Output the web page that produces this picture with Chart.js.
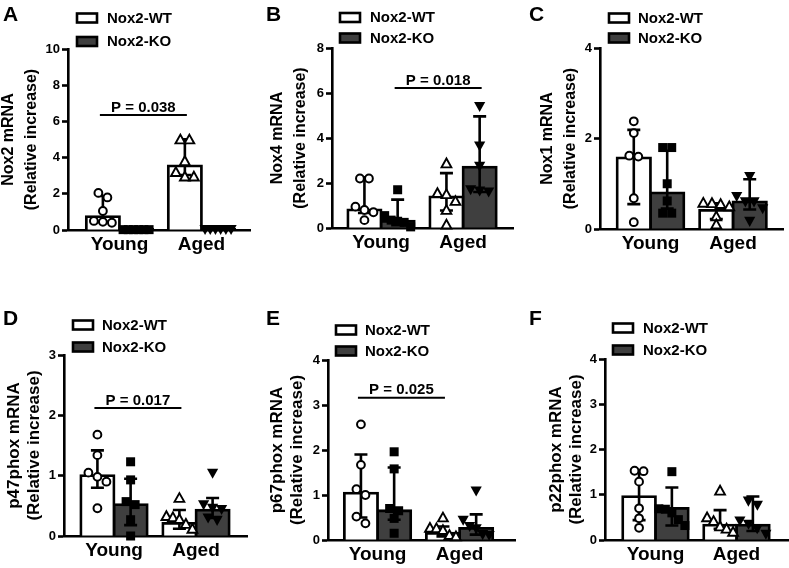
<!DOCTYPE html>
<html><head><meta charset="utf-8">
<script src="https://cdn.jsdelivr.net/npm/chart.js@4.4.1/dist/chart.umd.min.js"></script>
<style>
html,body{margin:0;padding:0;background:#fff;}
#wrap{position:relative;width:789px;height:568px;overflow:hidden;background:#fff;}
#wrap canvas{position:absolute;}
</style></head><body><div id="wrap"></div>
<script>
// ---------------- DATA ----------------
const categories = ['Young', 'Aged'];
const seriesNames = ['Nox2-WT', 'Nox2-KO'];

// A: Nox2 mRNA
const nox2WT = [0.74, 3.54];
const nox2WTLow = [0.45, 3.04];
const nox2WTHigh = [1.88, 5.01];
const nox2WTPts = [[2.05, 1.8, 1.05, 0.5, 0.45, 0.4], [5.0, 5.0, 3.8, 3.2, 2.95, 2.95]];
const nox2KO = [0.03, 0.03];
const nox2KOLow = [0.03, 0.03];
const nox2KOHigh = [0.03, 0.03];
const nox2KOPts = [[0.02, 0.02, 0.02, 0.02, 0.02, 0.02], [0.03, 0.03, 0.03, 0.03, 0.03, 0.03]];

// B: Nox4 mRNA
const nox4WT = [0.81, 1.38];
const nox4WTLow = [0.67, 0.78];
const nox4WTHigh = [2.25, 2.44];
const nox4WTPts = [[2.2, 2.2, 0.95, 0.8, 0.7, 0.35], [2.87, 1.55, 1.5, 1.2, 0.8, 0.15]];
const nox4KO = [0.3, 2.71];
const nox4KOLow = [0.12, 1.6];
const nox4KOHigh = [1.26, 4.96];
const nox4KOPts = [[1.7, 0.55, 0.35, 0.3, 0.25, 0.05], [5.4, 3.65, 2.75, 1.7, 1.65, 1.6]];

// C: Nox1 mRNA
const nox1WT = [1.57, 0.41];
const nox1WTLow = [0.55, 0.22];
const nox1WTHigh = [2.19, 0.57];
const nox1WTPts = [[2.38, 2.12, 1.62, 1.6, 0.68, 0.15], [0.58, 0.57, 0.55, 0.5, 0.28, 0.1]];
const nox1KO = [0.8, 0.6];
const nox1KOLow = [0.45, 0.43];
const nox1KOHigh = [1.73, 1.1];
const nox1KOPts = [[1.8, 1.8, 1.0, 0.62, 0.35, 0.35], [1.16, 0.72, 0.6, 0.6, 0.45, 0.17]];

// D: p47phox mRNA
const p47WT = [1.0, 0.21];
const p47WTLow = [0.8, 0.12];
const p47WTHigh = [1.42, 0.43];
const p47WTPts = [[1.68, 1.34, 1.05, 0.98, 0.9, 0.46], [0.63, 0.33, 0.31, 0.28, 0.2, 0.12]];
const p47KO = [0.52, 0.43];
const p47KOLow = [0.18, 0.3];
const p47KOHigh = [0.95, 0.63];
const p47KOPts = [[1.23, 0.93, 0.57, 0.52, 0.27, 0.0], [1.04, 0.52, 0.46, 0.44, 0.3, 0.26]];

// E: p67phox mRNA
const p67WT = [1.04, 0.15];
const p67WTLow = [0.5, 0.08];
const p67WTHigh = [1.9, 0.3];
const p67WTPts = [[2.57, 1.67, 1.13, 1.0, 0.52, 0.37], [0.5, 0.27, 0.26, 0.22, 0.11, 0.08]];
const p67KO = [0.65, 0.26];
const p67KOLow = [0.45, 0.12];
const p67KOHigh = [1.61, 0.57];
const p67KOPts = [[1.96, 1.58, 0.7, 0.65, 0.48, 0.15], [1.09, 0.44, 0.3, 0.25, 0.12, 0.1]];

// F: p22phox mRNA
const p22WT = [0.96, 0.33];
const p22WTLow = [0.44, 0.25];
const p22WTHigh = [1.53, 0.66];
const p22WTPts = [[1.53, 1.52, 1.29, 0.7, 0.48, 0.27], [1.09, 0.5, 0.42, 0.3, 0.25, 0.18]];
const p22KO = [0.7, 0.33];
const p22KOLow = [0.32, 0.2];
const p22KOHigh = [1.16, 0.96];
const p22KOPts = [[1.51, 0.69, 0.68, 0.6, 0.45, 0.32], [0.86, 0.77, 0.42, 0.35, 0.25, 0.13]];

// y axes
const yTitles = [
  ['Nox2 mRNA', '(Relative increase)'],
  ['Nox4 mRNA', '(Relative increase)'],
  ['Nox1 mRNA', '(Relative increase)'],
  ['p47phox mRNA', '(Relative increase)'],
  ['p67phox mRNA', '(Relative increase)'],
  ['p22phox mRNA', '(Relative increase)']
];
const yMaxes = [10, 8, 4, 3, 4, 4];
const ySteps = [2, 2, 2, 1, 1, 1];
const panelLetters = ['A', 'B', 'C', 'D', 'E', 'F'];

// significance annotations
const pTexts = ['P = 0.038', 'P = 0.018', null, 'P = 0.017', 'P = 0.025', null];
const pHeights = [6.35, 6.22, null, 2.12, 3.16, null];
const pSeries = [0, 1, null, 0, 0, null];

// ---------------- PRESENTATION ----------------
const FONT = "'Liberation Sans', Arial, Helvetica, sans-serif";
Chart.defaults.font.family = FONT;
Chart.defaults.color = '#000';
const KO_FILL = '#3f3f3f';
const markers = [['circle', 'triangle'], ['rect', 'triangleDown']];

const layouts = [
  {canvas: [0, 0, 263, 284],   area: [68, 49, 250, 230],   xr: [0.372, 2.592], tPad: -3,  tLH: 23, tSize: 16, leg: [77, 107, 18, 41.5],  letter: [3, 21]},
  {canvas: [263, 0, 263, 284], area: [332, 48, 513, 228],  xr: [0.402, 2.609], tPad: 3.5, tLH: 23, tSize: 16, leg: [340, 370, 17.5, 38], letter: [266, 21]},
  {canvas: [526, 0, 263, 284], area: [600, 48, 783, 229],  xr: [0.388, 2.606], tPad: 10,  tLH: 23, tSize: 16, leg: [609, 638, 18, 38],   letter: [529, 21]},
  {canvas: [0, 284, 263, 284], area: [64, 355, 247, 536],  xr: [0.39, 2.622],  tPad: 4.3, tLH: 20, tSize: 17, leg: [73, 102, 325, 347],  letter: [3, 325]},
  {canvas: [263, 284, 263, 284], area: [328, 360, 515, 540], xr: [0.396, 2.676], tPad: 4.3, tLH: 20, tSize: 17, leg: [336, 365, 330, 351], letter: [266, 325]},
  {canvas: [526, 284, 263, 284], area: [605, 359, 788, 540], xr: [0.377, 2.636], tPad: 20, tLH: 20, tSize: 17, leg: [613, 643, 328, 350], letter: [529, 325]}
];

const panels = [
  {wt: nox2WT, wtLow: nox2WTLow, wtHigh: nox2WTHigh, wtPts: nox2WTPts, ko: nox2KO, koLow: nox2KOLow, koHigh: nox2KOHigh, koPts: nox2KOPts},
  {wt: nox4WT, wtLow: nox4WTLow, wtHigh: nox4WTHigh, wtPts: nox4WTPts, ko: nox4KO, koLow: nox4KOLow, koHigh: nox4KOHigh, koPts: nox4KOPts},
  {wt: nox1WT, wtLow: nox1WTLow, wtHigh: nox1WTHigh, wtPts: nox1WTPts, ko: nox1KO, koLow: nox1KOLow, koHigh: nox1KOHigh, koPts: nox1KOPts},
  {wt: p47WT, wtLow: p47WTLow, wtHigh: p47WTHigh, wtPts: p47WTPts, ko: p47KO, koLow: p47KOLow, koHigh: p47KOHigh, koPts: p47KOPts},
  {wt: p67WT, wtLow: p67WTLow, wtHigh: p67WTHigh, wtPts: p67WTPts, ko: p67KO, koLow: p67KOLow, koHigh: p67KOHigh, koPts: p67KOPts},
  {wt: p22WT, wtLow: p22WTLow, wtHigh: p22WTHigh, wtPts: p22WTPts, ko: p22KO, koLow: p22KOLow, koHigh: p22KOHigh, koPts: p22KOPts}
];

function drawMarker(ctx, type, x, y) {
  ctx.save();
  ctx.strokeStyle = '#000';
  ctx.lineJoin = 'miter';
  ctx.beginPath();
  if (type === 'circle') {
    ctx.arc(x, y, 3.9, 0, Math.PI * 2);
    ctx.fillStyle = '#fff'; ctx.fill();
    ctx.lineWidth = 2; ctx.stroke();
  } else if (type === 'triangle') {
    const s = 4.9;
    ctx.moveTo(x, y - s); ctx.lineTo(x + s, y + s * 0.8); ctx.lineTo(x - s, y + s * 0.8); ctx.closePath();
    ctx.fillStyle = '#fff'; ctx.fill();
    ctx.lineWidth = 1.9; ctx.stroke();
  } else if (type === 'rect') {
    ctx.fillStyle = '#000';
    ctx.fillRect(x - 4.5, y - 4.5, 9, 9);
  } else {
    const s = 5.6;
    ctx.moveTo(x - s, y - s * 0.8); ctx.lineTo(x + s, y - s * 0.8); ctx.lineTo(x, y + s); ctx.closePath();
    ctx.fillStyle = '#000'; ctx.fill();
  }
  ctx.restore();
}

// spread points with similar heights horizontally around the bar centre
function swarm(vals, ys, cx, d, maxSpread) {
  const items = vals.map(v => ({py: ys.getPixelForValue(v)})).sort((a, b) => a.py - b.py);
  const groups = [];
  items.forEach(it => {
    const g = groups[groups.length - 1];
    if (g && it.py - g[g.length - 1].py < d * 0.85) g.push(it); else groups.push([it]);
  });
  const out = [];
  groups.forEach(g => {
    const n = g.length;
    const step = n > 1 ? Math.min(d, maxSpread / (n - 1)) : 0;
    g.forEach((it, k) => out.push({x: cx + (k - (n - 1) / 2) * step, y: it.py}));
  });
  return out;
}

function makeDecor(pi) {
  const L = layouts[pi];
  const ox = L.canvas[0], oy = L.canvas[1];
  return {
    id: 'decor' + pi,
    afterDatasetsDraw(chart) {
      const ctx = chart.ctx, ys = chart.scales.y;
      ctx.save();
      chart.data.datasets.forEach((ds, di) => {
        const meta = chart.getDatasetMeta(di);
        meta.data.forEach((bar, i) => {
          const x = bar.x;
          const lo = ys.getPixelForValue(ds.errLow[i]);
          const hi = ys.getPixelForValue(ds.errHigh[i]);
          ctx.strokeStyle = '#000'; ctx.lineWidth = 2.6; ctx.lineCap = 'butt';
          ctx.beginPath();
          ctx.moveTo(x, lo); ctx.lineTo(x, hi);
          ctx.moveTo(x - 6.5, hi); ctx.lineTo(x + 6.5, hi);
          ctx.moveTo(x - 6.5, lo); ctx.lineTo(x + 6.5, lo);
          ctx.stroke();
        });
      });
      chart.data.datasets.forEach((ds, di) => {
        const meta = chart.getDatasetMeta(di);
        meta.data.forEach((bar, i) => {
          swarm(ds.points[i], ys, bar.x, 9, 26).forEach(pt => drawMarker(ctx, markers[di][i], pt.x, pt.y));
        });
      });
      ctx.restore();
    },
    afterDraw(chart) {
      const ctx = chart.ctx, ys = chart.scales.y;
      ctx.save();
      ctx.fillStyle = '#000';
      ctx.font = 'bold 21px ' + FONT;
      ctx.textBaseline = 'alphabetic'; ctx.textAlign = 'left';
      ctx.fillText(panelLetters[pi], L.letter[0] - ox, L.letter[1] - oy);
      const [bx, tx, r1, r2] = L.leg;
      [r1, r2].forEach((ry, k) => {
        ctx.fillStyle = k === 0 ? '#fff' : KO_FILL;
        ctx.fillRect(bx - ox, ry - 4.5 - oy, 20, 9);
        ctx.strokeStyle = '#000'; ctx.lineWidth = 2.6;
        ctx.strokeRect(bx - ox, ry - 4.5 - oy, 20, 9);
        ctx.fillStyle = '#000';
        ctx.font = 'bold 15px ' + FONT;
        ctx.textBaseline = 'middle';
        ctx.fillText(seriesNames[k], tx - ox, ry - oy + 0.5);
      });
      if (pTexts[pi]) {
        const meta = chart.getDatasetMeta(pSeries[pi]);
        const x1 = meta.data[0].x - 3, x2 = meta.data[1].x + 2;
        const y = ys.getPixelForValue(pHeights[pi]);
        ctx.strokeStyle = '#000'; ctx.lineWidth = 2;
        ctx.beginPath(); ctx.moveTo(x1, y); ctx.lineTo(x2, y); ctx.stroke();
        ctx.font = 'bold 15px ' + FONT;
        ctx.textAlign = 'center'; ctx.textBaseline = 'alphabetic';
        ctx.fillText(pTexts[pi], (x1 + x2) / 2, y - 3.5);
      }
      ctx.restore();
    }
  };
}

const wrap = document.getElementById('wrap');
panels.forEach((p, pi) => {
  const L = layouts[pi];
  const [cx, cy, cw, ch] = L.canvas;
  const [ax, at, ar, ab] = L.area;
  const cv = document.createElement('canvas');
  cv.width = cw; cv.height = ch;
  cv.style.left = cx + 'px'; cv.style.top = cy + 'px';
  cv.style.width = cw + 'px'; cv.style.height = ch + 'px';
  wrap.appendChild(cv);
  const barCommon = {borderColor: '#000', borderWidth: 2.8, inflateAmount: 1.4, categoryPercentage: 0.81, barPercentage: 1};
  new Chart(cv, {
    type: 'bar',
    data: {
      datasets: [
        Object.assign({label: seriesNames[0], data: p.wt.map((v, i) => ({x: i + 1, y: v})), backgroundColor: '#fff',
          errLow: p.wtLow, errHigh: p.wtHigh, points: p.wtPts}, barCommon),
        Object.assign({label: seriesNames[1], data: p.ko.map((v, i) => ({x: i + 1, y: v})), backgroundColor: KO_FILL,
          errLow: p.koLow, errHigh: p.koHigh, points: p.koPts}, barCommon)
      ]
    },
    options: {
      responsive: false, animation: false, devicePixelRatio: 1,
      layout: {padding: {left: 0, top: at - cy, right: cx + cw - ar, bottom: 0}},
      plugins: {legend: {display: false}, tooltip: {enabled: false}},
      scales: {
        x: {
          type: 'linear', min: L.xr[0], max: L.xr[1], offset: false,
          afterBuildTicks: s => { s.ticks = categories.map((c, i) => ({value: i + 1})); },
          afterFit: s => { s.height = cy + ch - ab; },
          grid: {display: true, drawOnChartArea: false, drawTicks: false, offset: false},
          border: {display: true, color: '#000', width: 2.6},
          ticks: {callback: v => categories[v - 1], font: {size: 19, weight: 'bold'}, color: '#000', padding: 3.5, maxRotation: 0, autoSkip: false}
        },
        y: {
          min: 0, max: yMaxes[pi],
          afterFit: s => { s.width = ax - cx; },
          ticks: {stepSize: ySteps[pi], font: {size: 13, weight: 'bold'}, color: '#000', padding: 2},
          grid: {drawOnChartArea: false, drawTicks: true, tickLength: 6, tickWidth: 2.6, tickColor: '#000', color: '#000'},
          border: {display: true, color: '#000', width: 2.6},
          title: {display: true, text: yTitles[pi], color: '#000',
            font: {size: L.tSize, weight: 'bold', lineHeight: L.tLH + 'px'}, padding: {top: L.tPad, bottom: 0}}
        }
      }
    },
    plugins: [makeDecor(pi)]
  });
});
</script>
</body></html>
